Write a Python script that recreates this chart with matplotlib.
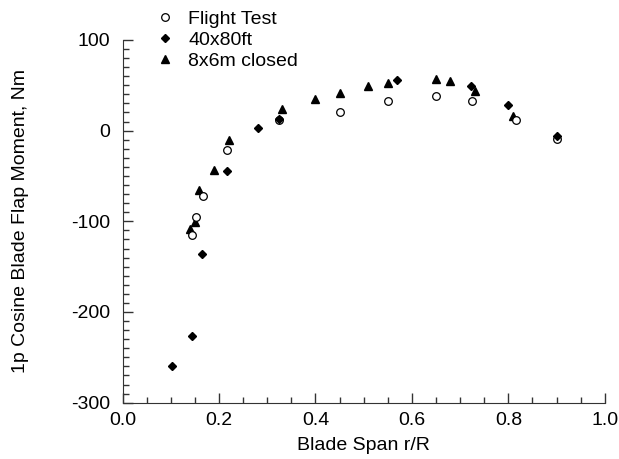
import matplotlib
matplotlib.use('Agg')
import matplotlib.pyplot as plt
from matplotlib.ticker import MultipleLocator

plt.rcParams['font.family'] = ['Liberation Sans', 'DejaVu Sans']
plt.rcParams['axes.unicode_minus'] = False

# flight test (open circles)
flight_r = [0.145, 0.152, 0.167, 0.216, 0.325, 0.45, 0.55, 0.65, 0.725, 0.815, 0.90]
flight_m = [-115, -95, -72, -21, 12, 21, 33, 38, 33, 12, -9]

# 40x80ft wind tunnel (diamonds)
tunnel40_r = [0.103, 0.145, 0.165, 0.217, 0.28, 0.325, 0.57, 0.722, 0.80, 0.90]
tunnel40_m = [-260, -227, -136, -45, 3, 13, 56, 49, 28, -6]

# 8x6m closed test section (triangles)
dnw_r = [0.139, 0.150, 0.159, 0.19, 0.22, 0.33, 0.40, 0.45, 0.51, 0.55, 0.65, 0.68, 0.73, 0.81]
dnw_m = [-108, -101, -65, -43, -10, 24, 35, 42, 49, 53, 57, 55, 44, 16]

fs = 14

fig = plt.figure(figsize=(6.19, 4.59), dpi=100)
ax = fig.add_axes([0.198, 0.1227, 0.779, 0.7903])

ax.plot(flight_r, flight_m, 'o', ms=5.5, mfc='white', mec='black', mew=0.9,
        label='Flight Test', zorder=3)
ax.plot(tunnel40_r, tunnel40_m, 'D', ms=4.5, color='black', label='40x80ft', zorder=4)
ax.plot(dnw_r, dnw_m, '^', ms=6, color='black', label='8x6m closed', zorder=2)

ax.set_xlim(0, 1)
ax.set_ylim(-300, 100)
ax.xaxis.set_major_locator(MultipleLocator(0.2))
ax.xaxis.set_minor_locator(MultipleLocator(0.05))
ax.yaxis.set_major_locator(MultipleLocator(100))
ax.yaxis.set_minor_locator(MultipleLocator(10))
ax.tick_params(which='both', direction='in', labelsize=fs, color='#333333')
ax.tick_params(axis='x', pad=6.5)
ax.tick_params(axis='y', pad=9)
ax.tick_params(which='major', length=7, width=1)
ax.tick_params(which='minor', length=4, width=1)
ax.set_xticklabels([f'{v:.1f}' for v in ax.get_xticks()])

for s in ['top', 'right']:
    ax.spines[s].set_visible(False)
for s in ['left', 'bottom']:
    ax.spines[s].set_color('#333333')

ax.set_xlabel('Blade Span r/R', fontsize=fs)
ax.set_ylabel('1p Cosine Blade Flap Moment, Nm', fontsize=fs)
ax.xaxis.set_label_coords(0.5, -0.095)
ax.yaxis.set_label_coords(-0.195, 0.5)

fig.legend(loc='upper left', bbox_to_anchor=(155 / 619, 1 - 10 / 459), frameon=False,
           fontsize=fs, borderpad=0, handlelength=1.0, handletextpad=0.7,
           labelspacing=0.18, borderaxespad=0)

fig.savefig('out.png', dpi=100)
